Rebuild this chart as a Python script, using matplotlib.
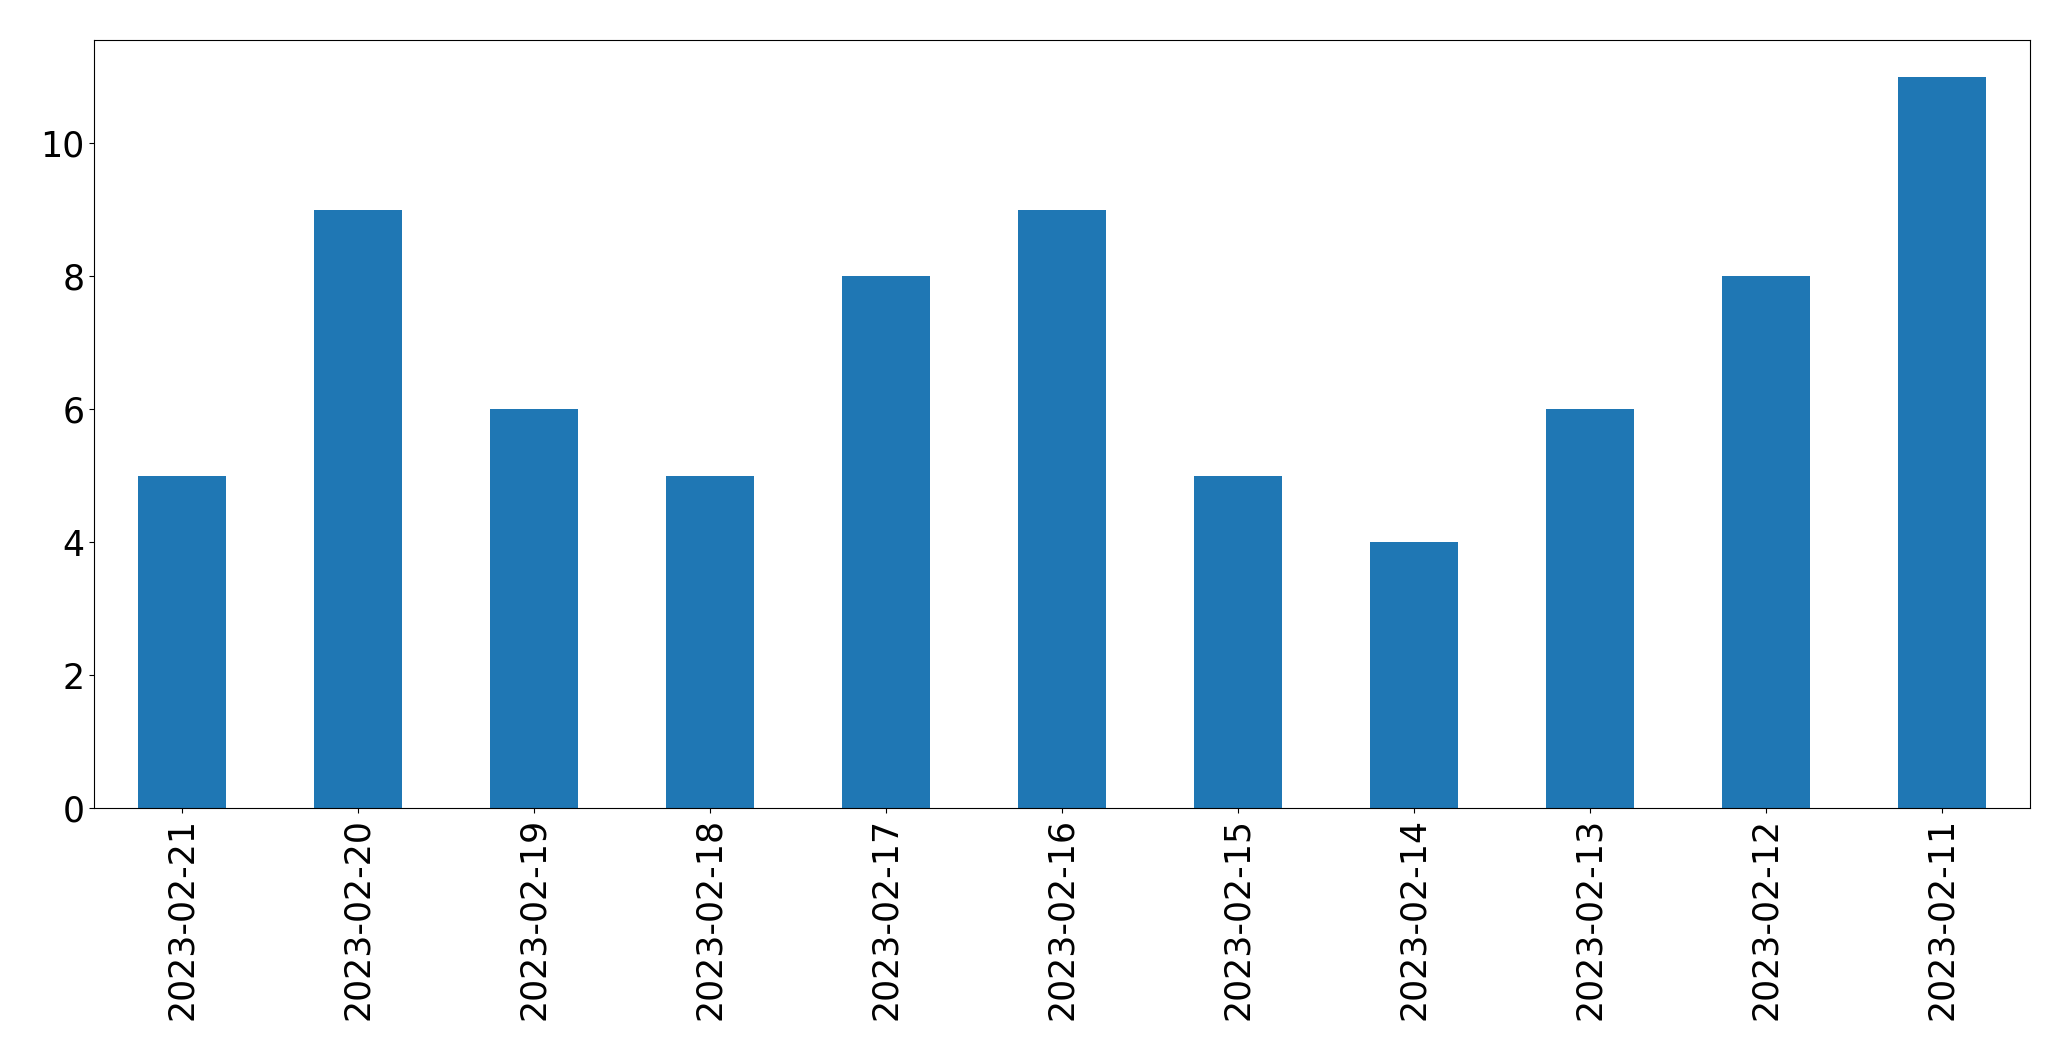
import matplotlib
matplotlib.use("Agg")
import matplotlib.pyplot as plt
import numpy as np

dates = ["2023-02-21", "2023-02-20", "2023-02-19", "2023-02-18", "2023-02-17", "2023-02-16",
         "2023-02-15", "2023-02-14", "2023-02-13", "2023-02-12", "2023-02-11"]
counts = [5, 9, 6, 5, 8, 9, 5, 4, 6, 8, 11]

fig, ax = plt.subplots(figsize=(20.71, 10.61), dpi=100)
fig.subplots_adjust(left=0.0454, right=0.980, top=0.962, bottom=0.238)

x = np.arange(len(dates))
ax.bar(x, counts, width=0.5, color="#1f77b4")
ax.set_xlim(-0.5, len(dates) - 0.5)
ax.set_ylim(0, max(counts) * 1.05)
ax.set_xticks(x)
ax.set_xticklabels(dates, rotation=90)
ax.tick_params(labelsize=25)

fig.savefig("out.png", dpi=100)
